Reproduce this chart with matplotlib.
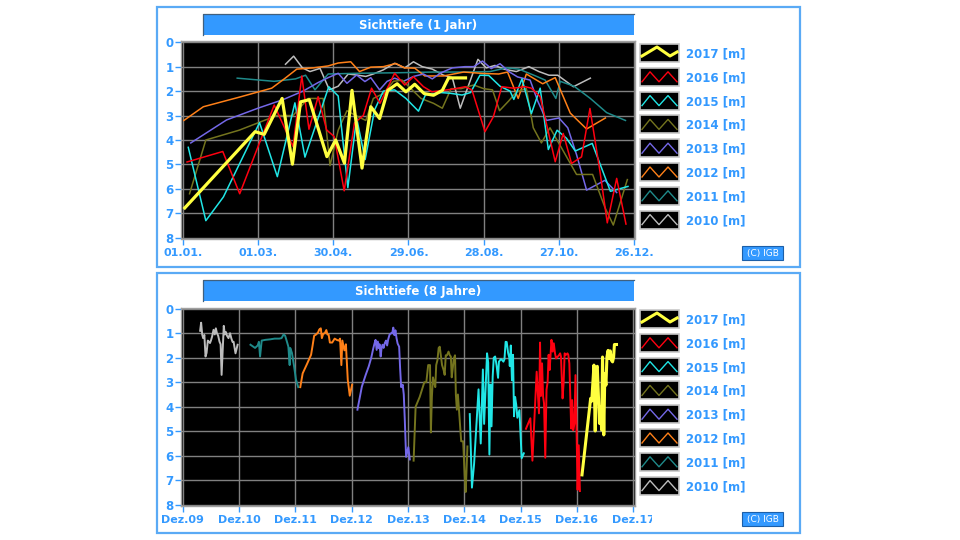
import matplotlib
matplotlib.use("Agg")
import matplotlib.pyplot as plt
from matplotlib.patches import Rectangle
from matplotlib.transforms import Bbox

# Sichttiefe data per year: day of year (from 01.01.) and depth in m
d2010 = [82, 88.5, 95.5, 101.5, 109.5, 117, 124, 132, 140, 146, 152, 160, 169, 177, 184, 191, 199, 208, 215,
         221.3, 235.4, 242, 249, 256, 266, 276, 284, 292, 299, 311.5, 325]
v2010 = [0.9, 0.57, 1.05, 1.2, 1.07, 1.95, 1.8, 1.3, 1.35, 1.4, 1.3, 1.13, 0.86, 1.05, 0.8, 1.0, 1.1, 1.35, 1.45,
         2.7, 0.7, 1.05, 0.95, 1.1, 1.2, 1.0, 1.2, 1.35, 1.35, 1.82, 1.47]

d2011 = [43.5, 73, 90, 98, 105.5, 116, 140, 170, 200, 230, 245, 258, 268, 280, 289, 297.5, 301, 312, 325, 338, 353]
v2011 = [1.47, 1.6, 1.5, 1.35, 1.95, 1.3, 1.27, 1.25, 1.22, 1.22, 1.2, 1.05, 1.1, 1.35, 1.55, 2.3, 1.6, 1.8, 2.3,
         2.88, 3.2]

d2012 = [1, 16.5, 45, 71, 81, 91, 104, 116, 124, 134, 141, 150, 160, 170, 177, 185, 193, 208, 224, 240, 252, 259,
         267.5, 274, 287, 297, 309, 322, 337]
v2012 = [3.2, 2.64, 2.25, 1.88, 1.5, 1.1, 1.05, 0.97, 0.85, 0.8, 1.2, 1.02, 1.0, 0.87, 1.05, 1.06, 1.38, 1.38,
         1.22, 1.28, 1.3, 1.22, 2.3, 1.3, 1.7, 1.45, 2.9, 3.55, 3.1]

d2013 = [6.5, 35, 60, 80, 96, 108, 116, 124, 131, 138.7, 145.3, 150, 157, 163, 169, 176, 184, 192, 199, 206, 215,
         225, 232, 239, 246, 253, 260, 267, 277, 283, 290, 300, 307, 314, 322, 336.6, 346]
v2013 = [4.12, 3.18, 2.7, 2.35, 2.0, 1.65, 1.45, 1.27, 1.68, 1.34, 1.61, 1.45, 1.95, 1.6, 1.47, 1.6, 1.4, 1.3, 1.5,
         1.25, 1.05, 1.0, 1.0, 0.77, 1.08, 0.88, 1.2, 1.42, 1.55, 2.4, 3.2, 3.1, 3.5, 4.6, 6.05, 5.65, 6.15]

d2014 = [5.5, 18.5, 45, 60, 75, 88, 100, 112, 117.5, 124, 131, 138, 146, 152, 160, 168, 175, 182, 190, 200, 207,
         214, 222, 232, 240, 247, 252.6, 260, 266, 274, 279.5, 286, 292.8, 302, 314, 326.8, 336.7, 343.3, 354.5]
v2014 = [6.2, 4.0, 3.6, 3.3, 3.0, 3.0, 2.3, 2.3, 5.05, 3.6, 2.8, 3.0, 3.2, 2.3, 2.1, 1.6, 1.55, 1.9, 2.3, 2.5, 2.7,
         1.9, 1.9, 1.75, 1.9, 1.95, 2.8, 2.4, 2.03, 1.9, 3.5, 4.12, 3.5, 4.32, 5.41, 5.41, 6.77, 7.48, 5.62]

d2015 = [4.5, 18.5, 32.5, 61.3, 75.5, 89.5, 97.5, 116.5, 124, 131.7, 138.7, 145.5, 153, 160, 169, 178, 188, 193.5,
         206, 213.5, 222.7, 229.5, 237, 244, 253, 261, 264, 270.5, 278, 285, 291.5, 298.5, 306, 313, 326.5, 341, 355]
v2015 = [4.3, 7.3, 6.33, 3.29, 5.5, 2.48, 4.7, 1.82, 2.2, 5.95, 3.1, 4.8, 2.77, 2.0, 1.95, 2.3, 2.82, 2.16,
         2.06, 2.09, 2.16, 2.06, 1.35, 1.36, 1.8, 2.0, 2.34, 1.5, 2.92, 1.88, 4.39, 3.6, 3.93, 4.45, 4.14, 6.1, 5.9]

d2016 = [3.5, 32, 45.5, 73, 88, 95, 100.7, 108, 114.8, 120.8, 128.8, 137, 144, 150.6, 157.3, 169, 177, 184, 192,
         198.7, 208, 217.4, 225.3, 230.6, 241, 247.7, 254.4, 263.7, 273, 278, 285, 297, 303.4, 310, 318, 324.7,
         332.7, 338.5, 346, 353.4]
v2016 = [4.9, 4.47, 6.2, 2.57, 4.27, 1.38, 3.56, 2.23, 3.59, 3.86, 6.08, 3.3, 3.0, 1.88, 2.5, 1.27, 1.75, 1.41, 1.82,
         2.03, 1.97, 1.9, 1.82, 1.95, 3.66, 3.05, 1.82, 1.88, 1.82, 1.88, 2.23, 4.89, 3.73, 4.96, 4.69, 2.71,
         5.3, 7.39, 5.57, 7.44]

d2017 = [1.7, 57.8, 65, 79.3, 87.5, 94, 101, 115, 122, 129, 135, 143, 150, 157, 163.5, 171, 178, 185, 192.5, 200,
         207, 212, 225.5]
v2017 = [6.78, 3.66, 3.77, 2.3, 4.99, 2.44, 2.35, 4.68, 4.0, 4.95, 1.97, 5.15, 2.64, 3.12, 1.97, 1.7, 2.03, 1.72,
         2.1, 2.17, 1.97, 1.46, 1.46]

years = [2010, 2011, 2012, 2013, 2014, 2015, 2016, 2017]
days = [d2010, d2011, d2012, d2013, d2014, d2015, d2016, d2017]
depths = [v2010, v2011, v2012, v2013, v2014, v2015, v2016, v2017]
colors = ['#bdbdbd', '#1f8a8a', '#ff8018', '#7468e8', '#74741e', '#20e6e6', '#ff0010', '#ffff40']

year_ticks = [0, 60, 120, 180, 240, 300, 360]
year_labels = ['01.01.', '01.03.', '30.04.', '29.06.', '28.08.', '27.10.', '26.12.']
multi_labels = ['Dez.09', 'Dez.10', 'Dez.11', 'Dez.12', 'Dez.13', 'Dez.14', 'Dez.15', 'Dez.16', 'Dez.17']

BLUE = '#3399ff'
W, H = 960, 540

fig = plt.figure(figsize=(9.6, 5.4), dpi=100)
fig.patch.set_facecolor('white')

# overlay in pixel coords for frames, title bars, legends
ov = fig.add_axes([0, 0, 1, 1], zorder=0)
ov.set_xlim(0, W)
ov.set_ylim(H, 0)
ov.axis('off')


def px_axes(x0, y0, x1, y1):
    return fig.add_axes([x0 / W, 1 - y1 / H, (x1 - x0) / W, (y1 - y0) / H], zorder=1)


def style(ax):
    ax.set_facecolor('black')
    for s in ax.spines.values():
        s.set_color('#a0a0a0')
        s.set_linewidth(1.0)
    ax.grid(True, color='#808080', linewidth=1.0)
    ax.set_axisbelow(True)
    ax.set_ylim(8.03, -0.05)
    ax.set_yticks(range(9))
    ax.tick_params(axis='y', colors=BLUE, length=4.5, width=1, pad=1, labelsize=8.5)
    ax.tick_params(axis='x', colors=BLUE, length=4, width=1, pad=3, labelsize=8)
    for lab in ax.get_yticklabels() + ax.get_xticklabels():
        lab.set_fontweight('bold')


def panel(y0, title):
    ov.add_patch(Rectangle((157, y0), 643, 260, fill=False, edgecolor='#5aaaf5', linewidth=1.6))
    ov.add_patch(Rectangle((203, y0 + 7), 431, 21, facecolor=BLUE, edgecolor='none'))
    ov.plot([203, 203, 634], [y0 + 28, y0 + 7, y0 + 7], color='#40607f', linewidth=0.9)
    ov.text(418, y0 + 18, title, color='white', fontsize=8.5, fontweight='bold', ha='center', va='center')
    # legend
    for i, (yr, c) in enumerate(zip(years[::-1], colors[::-1])):
        by = y0 + 37 + i * 23.8
        ov.add_patch(Rectangle((640, by), 39, 18, facecolor='black', edgecolor='#c8c8c8', linewidth=1.2))
        if yr == 2017:
            ov.plot([642, 657, 670, 677], [by + 12, by + 3, by + 12, by + 8], color=c, linewidth=2.2)
        else:
            ov.plot([642, 650, 659, 668, 677], [by + 14, by + 4, by + 14, by + 4, by + 14], color=c, linewidth=1.0)
        ov.text(686, by + 10, f'{yr} [m]', color=BLUE, fontsize=8.5, fontweight='bold', va='center', ha='left')
    ov.add_patch(Rectangle((742, y0 + 239), 41, 14, facecolor=BLUE, edgecolor='#1c5fa8', linewidth=0.8))
    ov.text(762.5, y0 + 246.5, '(C) IGB', color='white', fontsize=6.5, ha='center', va='center')


panel(7, 'Sichttiefe (1 Jahr)')
panel(273, 'Sichttiefe (8 Jahre)')

# top chart: one year
ax1 = px_axes(181, 41, 634.5, 238.5)
for yr, d, v, c in zip(years, days, depths, colors):
    lw = 2.3 if yr == 2017 else 1.1
    ax1.plot(d, v, color=c, linewidth=lw)
ax1.set_xlim(-1.3, 360.2)
ax1.set_xticks(year_ticks)
ax1.set_xticklabels(year_labels)
style(ax1)

# bottom chart: 8 years in a row, days since 01.12.2009
ax2 = px_axes(181, 307.5, 634.5, 505.5)
for yr, d, v, c in zip(years, days, depths, colors):
    x = [(yr - 2010) * 365.25 + 31 + di for di in d]
    lw = 2.2 if yr == 2017 else 1.4
    ax2.plot(x, v, color=c, linewidth=lw)
ax2.set_xlim(-11, 2930)
ax2.set_xticks([k * 365.25 for k in range(9)])
ax2.set_xticklabels(multi_labels)
style(ax2)
last = ax2.get_xticklabels()[-1]
last.set_clip_box(Bbox([[0, 0], [652, 540]]))
last.set_clip_on(True)

fig.savefig('out.png', dpi=100, facecolor='white')
